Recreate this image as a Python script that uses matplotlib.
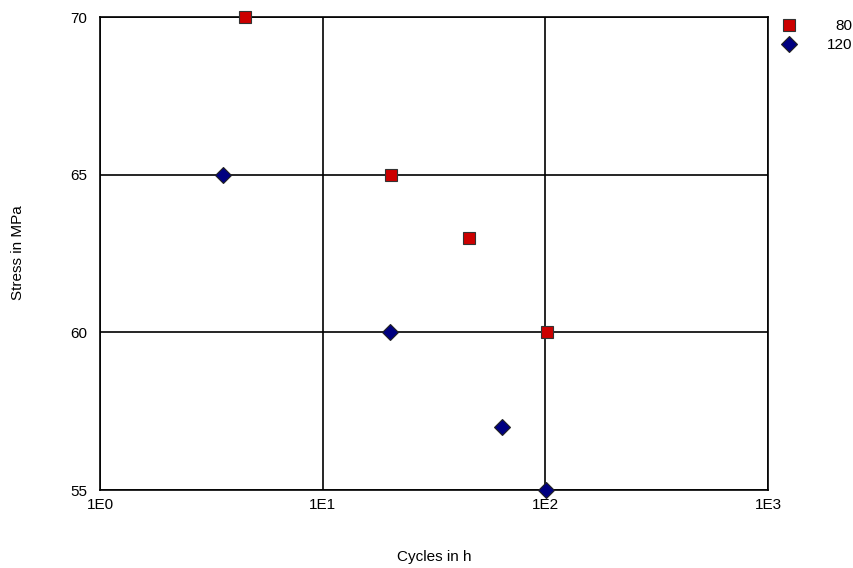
import matplotlib
matplotlib.use("Agg")
import matplotlib.pyplot as plt
from matplotlib.ticker import FixedLocator, NullLocator

plt.rcParams['font.family'] = ['Liberation Sans', 'DejaVu Sans']

series_80_x = [4.5, 20.2, 45.5, 102]
series_80_y = [70, 65, 63, 60]
series_120_x = [3.55, 20.0, 64.0, 101]
series_120_y = [65, 60, 57, 55]
legend_labels = ["80", "120"]
x_ticks = [1, 10, 100, 1000]
x_tick_labels = ["1E0", "1E1", "1E2", "1E3"]
y_ticks = [55, 60, 65, 70]
y_tick_labels = ["55", "60", "65", "70"]

FS = 11

fig = plt.figure(figsize=(8.54, 5.68), dpi=100)
ax = fig.add_axes([100/854, 78/568, 668/854, 473/568])
ax.set_xscale('log')
ax.set_xlim(1, 1000)
ax.set_ylim(55, 70)
ax.xaxis.set_major_locator(FixedLocator(x_ticks))
ax.xaxis.set_minor_locator(NullLocator())
ax.set_xticks(x_ticks)
ax.set_xticklabels(x_tick_labels)
ax.set_yticks(y_ticks)
ax.set_yticklabels(y_tick_labels)
ax.tick_params(length=0, labelsize=FS, colors='black')
ax.tick_params(axis='x', pad=6)
ax.tick_params(axis='y', pad=9)
ax.grid(True, color='black', linewidth=1.2)
for s in ax.spines.values():
    s.set_linewidth(1.2)
    s.set_color('black')

ax.plot(series_80_x, series_80_y, linestyle='none', marker='s', markersize=8,
        markerfacecolor='#CC0000', markeredgecolor='#333333', markeredgewidth=0.8,
        clip_on=False, zorder=5)
ax.plot(series_120_x, series_120_y, linestyle='none', marker='D', markersize=8.5,
        markerfacecolor='#000080', markeredgecolor='#222222', markeredgewidth=0.8,
        clip_on=False, zorder=5)

fig.text(434/854, 1 - 557/568, "Cycles in h", ha='center', va='center', fontsize=FS)
fig.text(18/854, 1 - 253/568, "Stress in MPa", ha='center', va='center',
         rotation=90, fontsize=FS)

# legend (manual, outside plot area)
fig.lines.append(plt.Line2D([789/854], [1 - 25/568], transform=fig.transFigure,
                            linestyle='none', marker='s', markersize=8,
                            markerfacecolor='#CC0000', markeredgecolor='#333333', markeredgewidth=0.8))
fig.lines.append(plt.Line2D([789/854], [1 - 44/568], transform=fig.transFigure,
                            linestyle='none', marker='D', markersize=8.5,
                            markerfacecolor='#000080', markeredgecolor='#222222', markeredgewidth=0.8))
fig.text(852/854, 1 - 26/568, legend_labels[0], ha='right', va='center', fontsize=FS)
fig.text(852/854, 1 - 45/568, legend_labels[1], ha='right', va='center', fontsize=FS)

fig.savefig("out.png", dpi=100)
